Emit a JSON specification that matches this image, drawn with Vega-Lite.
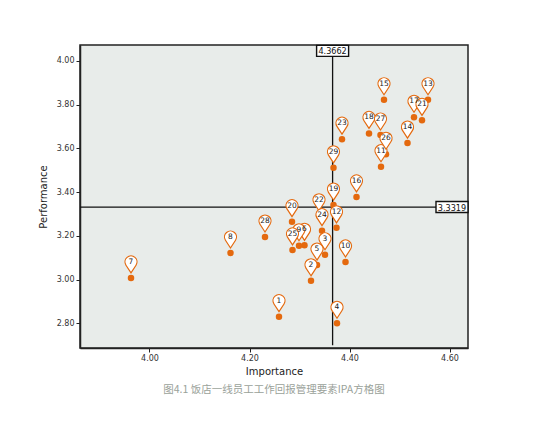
{
  "$schema": "https://vega.github.io/schema/vega-lite/v6.json",
  "autosize": "none",
  "width": 388,
  "height": 303,
  "padding": {"left": 80, "top": 45, "right": 82, "bottom": 97},
  "background": "white",
  "title": {
    "text": "图4.1 饭店一线员工工作回报管理要素IPA方格图",
    "orient": "bottom",
    "anchor": "middle",
    "font": "Noto Sans CJK SC",
    "fontSize": 10.5,
    "fontWeight": "normal",
    "color": "#9aa29a",
    "offset": 9
  },
  "config": {
    "view": {"fill": "#e8ecea", "stroke": "#222222", "strokeWidth": 1.5},
    "axis": {
      "grid": false,
      "domainColor": "#222222",
      "domainWidth": 1.5,
      "tickColor": "#222222",
      "tickSize": 4,
      "tickWidth": 1,
      "labelFont": "DejaVu Sans",
      "labelFontSize": 8,
      "labelColor": "#333333",
      "labelPadding": 2,
      "titleFont": "DejaVu Sans",
      "titleFontSize": 10,
      "titleFontWeight": "normal",
      "titleColor": "#222222"
    }
  },
  "datasets": {
    "items": [
      {"id": "1", "importance": 4.259, "performance": 2.831},
      {"id": "2", "importance": 4.323, "performance": 2.995},
      {"id": "3", "importance": 4.351, "performance": 3.114},
      {"id": "4", "importance": 4.375, "performance": 2.801},
      {"id": "5", "importance": 4.335, "performance": 3.067},
      {"id": "6", "importance": 4.310, "performance": 3.157},
      {"id": "7", "importance": 3.963, "performance": 3.008},
      {"id": "8", "importance": 4.162, "performance": 3.122},
      {"id": "9", "importance": 4.299, "performance": 3.155},
      {"id": "10", "importance": 4.392, "performance": 3.081},
      {"id": "11", "importance": 4.463, "performance": 3.516},
      {"id": "12", "importance": 4.374, "performance": 3.237},
      {"id": "13", "importance": 4.557, "performance": 3.822},
      {"id": "14", "importance": 4.516, "performance": 3.624},
      {"id": "15", "importance": 4.469, "performance": 3.822},
      {"id": "16", "importance": 4.414, "performance": 3.378},
      {"id": "17", "importance": 4.529, "performance": 3.742},
      {"id": "18", "importance": 4.439, "performance": 3.668},
      {"id": "19", "importance": 4.368, "performance": 3.341},
      {"id": "20", "importance": 4.285, "performance": 3.265},
      {"id": "21", "importance": 4.545, "performance": 3.728},
      {"id": "22", "importance": 4.339, "performance": 3.292},
      {"id": "23", "importance": 4.385, "performance": 3.642},
      {"id": "24", "importance": 4.345, "performance": 3.224},
      {"id": "25", "importance": 4.286, "performance": 3.136},
      {"id": "26", "importance": 4.473, "performance": 3.573},
      {"id": "27", "importance": 4.462, "performance": 3.661},
      {"id": "28", "importance": 4.231, "performance": 3.195},
      {"id": "29", "importance": 4.368, "performance": 3.511}
    ],
    "refs": [
      {"label": "4.3662", "x": 4.3662, "y": 4.045},
      {"label": "3.3319", "x": 4.605, "y": 3.3319}
    ]
  },
  "layer": [
    {
      "data": {"values": [{"x": 4.3662, "y1": 2.70, "y2": 4.072}]},
      "mark": {"type": "rule", "color": "#111111", "strokeWidth": 1.3},
      "encoding": {
        "x": {"field": "x", "type": "quantitative", "scale": {"domain": [3.861, 4.637], "nice": false, "zero": false}},
        "y": {"field": "y1", "type": "quantitative", "scale": {"domain": [2.688, 4.072], "nice": false, "zero": false}},
        "y2": {"field": "y2"}
      }
    },
    {
      "data": {"values": [{"y": 3.3319}]},
      "mark": {"type": "rule", "color": "#111111", "strokeWidth": 1.3},
      "encoding": {
        "y": {"field": "y", "type": "quantitative"}
      }
    },
    {
      "data": {"name": "items"},
      "mark": {"type": "point", "shape": "circle", "filled": true, "color": "#e4690e", "size": 42, "opacity": 1},
      "encoding": {
        "x": {"field": "importance", "type": "quantitative", "title": "Importance",
          "axis": {"values": [4.0, 4.2, 4.4, 4.6], "format": ".2f", "titlePadding": 4}},
        "y": {"field": "performance", "type": "quantitative", "title": "Performance",
          "axis": {"values": [2.8, 3.0, 3.2, 3.4, 3.6, 3.8, 4.0], "format": ".2f", "titlePadding": 8}}
      }
    },
    {
      "data": {"name": "items"},
      "mark": {"type": "point", "shape": "M0,-1L-1.006,-2.546A1.2,1.2,0,1,1,1.006,-2.546Z", "size": 100, "filled": false, "fill": "white", "fillOpacity": 1, "stroke": "#e4690e", "strokeWidth": 1.2, "opacity": 1},
      "encoding": {
        "x": {"field": "importance", "type": "quantitative"},
        "y": {"field": "performance", "type": "quantitative"}
      }
    },
    {
      "data": {"name": "items"},
      "mark": {"type": "text", "font": "DejaVu Sans", "fontSize": 7.5, "color": "#222222", "dy": -16, "baseline": "middle", "align": "center"},
      "encoding": {
        "x": {"field": "importance", "type": "quantitative"},
        "y": {"field": "performance", "type": "quantitative"},
        "text": {"field": "id"}
      }
    },
    {
      "data": {"name": "refs"},
      "mark": {"type": "point", "shape": "M-1.6,-0.55L1.6,-0.55L1.6,0.55L-1.6,0.55Z", "size": 400, "filled": false, "fill": "white", "fillOpacity": 1, "stroke": "#111111", "strokeWidth": 1.4, "opacity": 1},
      "encoding": {
        "x": {"field": "x", "type": "quantitative"},
        "y": {"field": "y", "type": "quantitative"}
      }
    },
    {
      "data": {"name": "refs"},
      "mark": {"type": "text", "font": "DejaVu Sans Condensed", "fontSize": 9, "color": "#111111", "baseline": "middle", "align": "center", "dy": 0.5},
      "encoding": {
        "x": {"field": "x", "type": "quantitative"},
        "y": {"field": "y", "type": "quantitative"},
        "text": {"field": "label"}
      }
    }
  ]
}
